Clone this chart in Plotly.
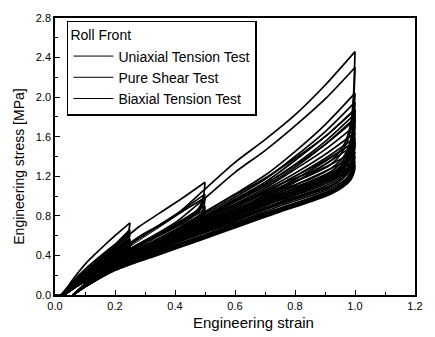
import plotly.graph_objects as go

# Strain grids for loading (UP) and unloading (DN) branches at each strain level
UP_025 = [0.02, 0.06, 0.10, 0.15, 0.20, 0.25]
DN_025 = [0.25, 0.245, 0.23, 0.19, 0.14, 0.09, 0.05, 0.02]
UP_050 = [0.02, 0.08, 0.15, 0.22, 0.28, 0.35, 0.42, 0.50]
DN_050 = [0.50, 0.495, 0.48, 0.44, 0.38, 0.30, 0.21, 0.12, 0.06, 0.03]
UP_100 = [0.03, 0.10, 0.20, 0.30, 0.40, 0.50, 0.60, 0.70, 0.80, 0.90, 1.00]
DN_100 = [1.00, 0.995, 0.985, 0.96, 0.92, 0.85, 0.75, 0.62, 0.48, 0.34, 0.20, 0.11, 0.06]

# Biaxial tension: engineering stress [MPa] per cycle
B_UP_025 = [[0, 0.16, 0.31, 0.46, 0.60, 0.73], [0, 0.11, 0.23, 0.37, 0.51, 0.66], [0, 0.10, 0.21, 0.35, 0.49, 0.64]]
B_DN_025 = [[0.73, 0.645, 0.57, 0.45, 0.33, 0.21, 0.10, 0], [0.66, 0.60, 0.54, 0.44, 0.32, 0.20, 0.09, 0], [0.64, 0.59, 0.53, 0.43, 0.31, 0.20, 0.09, 0]]
B_UP_050 = [[0, 0.20, 0.38, 0.54, 0.69, 0.83, 0.97, 1.14], [0, 0.15, 0.30, 0.44, 0.57, 0.71, 0.85, 1.02], [0, 0.14, 0.29, 0.43, 0.55, 0.69, 0.83, 0.99]]
B_DN_050 = [[1.14, 1.00, 0.88, 0.78, 0.68, 0.55, 0.40, 0.24, 0.11, 0], [1.02, 0.95, 0.86, 0.76, 0.66, 0.54, 0.39, 0.23, 0.11, 0], [0.99, 0.93, 0.85, 0.75, 0.65, 0.53, 0.38, 0.23, 0.10, 0]]
B_UP_100 = [
    [0, 0.22, 0.43, 0.61, 0.80, 1.07, 1.34, 1.57, 1.82, 2.12, 2.46],
    [0, 0.19, 0.38, 0.55, 0.73, 0.98, 1.24, 1.46, 1.71, 1.98, 2.30],
    [0, 0.17, 0.34, 0.50, 0.66, 0.84, 1.02, 1.21, 1.45, 1.72, 2.04],
    [0, 0.17, 0.33, 0.49, 0.64, 0.82, 0.99, 1.17, 1.40, 1.65, 1.95],
    [0, 0.16, 0.32, 0.48, 0.63, 0.80, 0.97, 1.14, 1.36, 1.60, 1.88],
    [0, 0.16, 0.32, 0.47, 0.62, 0.79, 0.95, 1.12, 1.32, 1.55, 1.83],
    [0, 0.16, 0.31, 0.46, 0.61, 0.78, 0.94, 1.10, 1.29, 1.52, 1.79],
]
B_DN_100 = [
    [2.46, 2.02, 1.72, 1.50, 1.36, 1.24, 1.12, 0.94, 0.76, 0.56, 0.34, 0.14, 0],
    [2.30, 1.94, 1.66, 1.46, 1.32, 1.21, 1.09, 0.92, 0.74, 0.55, 0.33, 0.14, 0],
    [2.04, 1.78, 1.56, 1.39, 1.28, 1.17, 1.06, 0.89, 0.72, 0.53, 0.32, 0.13, 0],
    [1.95, 1.72, 1.52, 1.36, 1.25, 1.15, 1.04, 0.87, 0.71, 0.52, 0.32, 0.13, 0],
    [1.88, 1.67, 1.48, 1.33, 1.23, 1.13, 1.02, 0.86, 0.70, 0.51, 0.31, 0.13, 0],
    [1.83, 1.63, 1.45, 1.31, 1.21, 1.11, 1.00, 0.84, 0.68, 0.50, 0.30, 0.12, 0],
    [1.79, 1.60, 1.43, 1.29, 1.19, 1.10, 0.99, 0.83, 0.67, 0.49, 0.30, 0.12, 0],
]

# Pure shear
S_UP_025 = [[0, 0.13, 0.26, 0.39, 0.51, 0.62], [0, 0.09, 0.19, 0.31, 0.44, 0.57], [0, 0.09, 0.18, 0.30, 0.42, 0.555]]
S_DN_025 = [[0.62, 0.55, 0.49, 0.39, 0.28, 0.18, 0.08, 0], [0.57, 0.52, 0.47, 0.38, 0.27, 0.17, 0.08, 0], [0.555, 0.51, 0.46, 0.37, 0.27, 0.17, 0.07, 0]]
S_UP_050 = [[0, 0.16, 0.32, 0.46, 0.59, 0.71, 0.84, 0.98], [0, 0.13, 0.26, 0.38, 0.49, 0.62, 0.75, 0.90], [0, 0.12, 0.25, 0.37, 0.48, 0.60, 0.73, 0.88]]
S_DN_050 = [[0.98, 0.87, 0.77, 0.68, 0.59, 0.48, 0.35, 0.21, 0.10, 0], [0.90, 0.83, 0.75, 0.67, 0.58, 0.47, 0.34, 0.20, 0.09, 0], [0.88, 0.82, 0.74, 0.66, 0.57, 0.46, 0.34, 0.20, 0.09, 0]]
S_UP_100 = [
    [0, 0.17, 0.34, 0.49, 0.64, 0.84, 1.01, 1.18, 1.38, 1.60, 1.87],
    [0, 0.16, 0.31, 0.46, 0.60, 0.79, 0.96, 1.12, 1.31, 1.52, 1.77],
    [0, 0.16, 0.31, 0.45, 0.59, 0.77, 0.92, 1.08, 1.27, 1.47, 1.71],
    [0, 0.16, 0.31, 0.45, 0.59, 0.75, 0.90, 1.06, 1.23, 1.42, 1.64],
    [0, 0.15, 0.30, 0.45, 0.58, 0.73, 0.88, 1.03, 1.20, 1.38, 1.59],
    [0, 0.15, 0.30, 0.44, 0.57, 0.72, 0.86, 1.01, 1.17, 1.35, 1.55],
    [0, 0.15, 0.30, 0.44, 0.56, 0.71, 0.85, 0.99, 1.14, 1.32, 1.52],
]
S_DN_100 = [
    [1.87, 1.64, 1.45, 1.31, 1.21, 1.12, 1.02, 0.85, 0.69, 0.51, 0.31, 0.13, 0],
    [1.77, 1.57, 1.41, 1.28, 1.19, 1.10, 1.00, 0.84, 0.68, 0.50, 0.30, 0.12, 0],
    [1.71, 1.53, 1.38, 1.26, 1.17, 1.08, 0.98, 0.82, 0.66, 0.49, 0.29, 0.12, 0],
    [1.64, 1.48, 1.34, 1.23, 1.15, 1.06, 0.96, 0.80, 0.65, 0.48, 0.29, 0.12, 0],
    [1.59, 1.44, 1.31, 1.21, 1.13, 1.04, 0.94, 0.79, 0.64, 0.47, 0.28, 0.11, 0],
    [1.55, 1.41, 1.29, 1.19, 1.11, 1.03, 0.93, 0.78, 0.63, 0.46, 0.28, 0.11, 0],
    [1.52, 1.39, 1.27, 1.18, 1.10, 1.02, 0.92, 0.77, 0.62, 0.46, 0.27, 0.11, 0],
]

# Uniaxial tension
U_UP_025 = [[0, 0.11, 0.22, 0.34, 0.45, 0.55], [0, 0.08, 0.17, 0.28, 0.39, 0.50], [0, 0.07, 0.16, 0.27, 0.38, 0.49]]
U_DN_025 = [[0.55, 0.48, 0.42, 0.33, 0.23, 0.14, 0.06, 0], [0.50, 0.45, 0.40, 0.31, 0.21, 0.13, 0.05, 0], [0.49, 0.44, 0.38, 0.29, 0.20, 0.12, 0.05, 0]]
U_UP_050 = [[0, 0.13, 0.27, 0.40, 0.51, 0.62, 0.73, 0.86], [0, 0.11, 0.22, 0.33, 0.43, 0.54, 0.65, 0.79], [0, 0.10, 0.21, 0.32, 0.42, 0.53, 0.64, 0.77]]
U_DN_050 = [[0.86, 0.77, 0.69, 0.61, 0.53, 0.43, 0.31, 0.18, 0.08, 0], [0.79, 0.73, 0.67, 0.60, 0.52, 0.42, 0.30, 0.17, 0.07, 0], [0.77, 0.72, 0.66, 0.59, 0.51, 0.41, 0.30, 0.17, 0.07, 0]]
U_UP_100 = [
    [0, 0.16, 0.31, 0.45, 0.58, 0.75, 0.90, 1.04, 1.20, 1.36, 1.55],
    [0, 0.15, 0.30, 0.44, 0.56, 0.71, 0.86, 1.00, 1.15, 1.29, 1.45],
    [0, 0.15, 0.29, 0.43, 0.55, 0.69, 0.84, 0.97, 1.11, 1.25, 1.40],
    [0, 0.14, 0.29, 0.42, 0.54, 0.68, 0.82, 0.95, 1.08, 1.21, 1.35],
    [0, 0.14, 0.28, 0.42, 0.54, 0.67, 0.81, 0.93, 1.05, 1.18, 1.32],
    [0, 0.14, 0.28, 0.41, 0.53, 0.66, 0.80, 0.92, 1.03, 1.16, 1.30],
    [0, 0.14, 0.28, 0.41, 0.53, 0.66, 0.79, 0.91, 1.01, 1.14, 1.28],
]
U_DN_100 = [
    [1.55, 1.40, 1.29, 1.18, 1.10, 1.02, 0.92, 0.77, 0.62, 0.46, 0.28, 0.11, 0],
    [1.45, 1.34, 1.24, 1.15, 1.08, 1.00, 0.90, 0.75, 0.61, 0.45, 0.27, 0.11, 0],
    [1.40, 1.30, 1.22, 1.13, 1.06, 0.98, 0.88, 0.74, 0.59, 0.44, 0.27, 0.11, 0],
    [1.35, 1.27, 1.20, 1.12, 1.05, 0.97, 0.87, 0.73, 0.58, 0.43, 0.26, 0.10, 0],
    [1.32, 1.25, 1.18, 1.11, 1.04, 0.96, 0.86, 0.72, 0.57, 0.42, 0.26, 0.10, 0],
    [1.30, 1.24, 1.17, 1.10, 1.03, 0.95, 0.85, 0.71, 0.56, 0.41, 0.25, 0.10, 0],
    [1.28, 1.22, 1.16, 1.09, 1.02, 0.94, 0.84, 0.70, 0.55, 0.40, 0.25, 0.10, 0],
]

TESTS = [
    ("Uniaxial Tension Test", [(U_UP_025, U_DN_025), (U_UP_050, U_DN_050), (U_UP_100, U_DN_100)]),
    ("Pure Shear Test", [(S_UP_025, S_DN_025), (S_UP_050, S_DN_050), (S_UP_100, S_DN_100)]),
    ("Biaxial Tension Test", [(B_UP_025, B_DN_025), (B_UP_050, B_DN_050), (B_UP_100, B_DN_100)]),
]
GRIDS = [(UP_025, DN_025), (UP_050, DN_050), (UP_100, DN_100)]

fig = go.Figure()
for name, levels in TESTS:
    start = True
    for lvl, ((up_grid, dn_grid), (ups, dns)) in enumerate(zip(GRIDS, levels)):
        for cyc, (up, dn) in enumerate(zip(ups, dns)):
            for branch, (xs, ys) in enumerate(((up_grid, up), (dn_grid, dn))):
                if start:
                    xs, ys = [0.0] + list(xs), [0.0] + list(ys)
                    start = False
                # a reloading branch buried in the band carries the thin legend sample
                key = lvl == 1 and cyc == 2 and branch == 0
                fig.add_trace(go.Scatter(
                    x=xs, y=ys, mode="lines", name=name, legendgroup=name,
                    showlegend=key,
                    line=dict(color="black", width=1.0 if key else 1.7,
                              shape="spline", smoothing=0.8),
                ))

axis_common = dict(
    showgrid=False, zeroline=False, showline=True, linecolor="black", linewidth=1.5,
    mirror=True, ticks="inside", ticklen=5, tickwidth=1.2, tickcolor="black",
    tickfont=dict(size=11, color="black"), tickformat=".1f",
)
fig.update_xaxes(
    range=[0, 1.2], dtick=0.2, tick0=0,
    minor=dict(ticks="inside", ticklen=3, dtick=0.1, tickcolor="black"),
    **axis_common,
)
fig.update_yaxes(
    range=[0, 2.8], dtick=0.4, tick0=0,
    minor=dict(ticks="inside", ticklen=3, dtick=0.2, tickcolor="black"),
    **axis_common,
)
fig.add_annotation(
    text="Engineering strain", xref="paper", yref="paper", x=0.55, y=-0.1,
    xanchor="center", yanchor="middle", showarrow=False,
    font=dict(size=15, color="black"),
)
fig.add_annotation(
    text="Engineering stress [MPa]", xref="paper", yref="paper", x=-0.1, y=0.463,
    xanchor="center", yanchor="middle", textangle=-90, showarrow=False,
    font=dict(size=14, color="black"),
)
fig.update_layout(
    width=435, height=337,
    margin=dict(l=55, r=13, t=13, b=42),
    paper_bgcolor="white", plot_bgcolor="white",
    font=dict(family="Liberation Sans, Arial, sans-serif", color="black"),
    legend=dict(
        x=0.033, y=0.99, xanchor="left", yanchor="top",
        bgcolor="white", bordercolor="black", borderwidth=1.5,
        font=dict(size=14, color="black"),
        title=dict(text="Roll Front", font=dict(size=14, color="black")),
        itemwidth=40, tracegroupgap=0,
    ),
)
fig.write_html("out.html")
